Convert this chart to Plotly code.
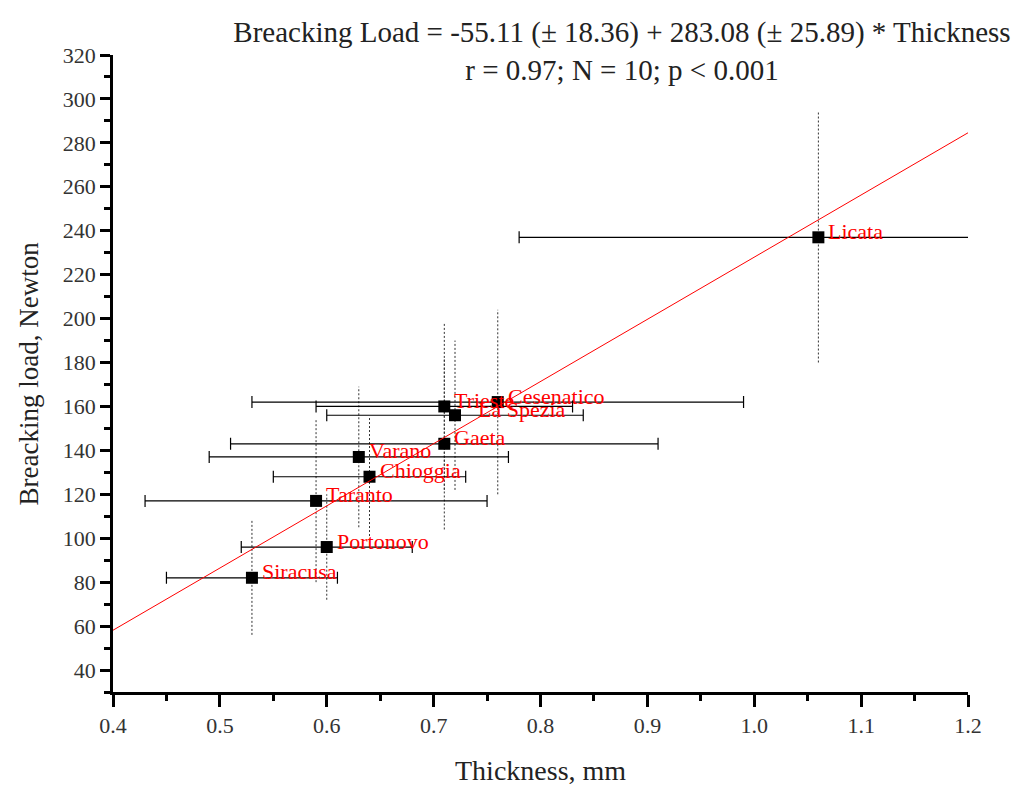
import plotly.graph_objects as go

# ---------------- data ----------------
sites = ["Siracusa", "Portonovo", "Taranto", "Chioggia", "Varano",
         "Gaeta", "Trieste", "La Spezia", "Cesenatico", "Licata"]
thickness = [0.53, 0.60, 0.59, 0.64, 0.63, 0.71, 0.71, 0.72, 0.76, 1.06]
breaking_load = [82, 96, 117, 128, 137, 143, 160, 156, 162, 237]
thickness_err = [0.08, 0.08, 0.16, 0.09, 0.14, 0.20, 0.12, 0.12, 0.23, 0.28]
load_err = [26, 24, 37, 27, 32, 39, 38, 34, 42, 57]

intercept = -55.11
slope = 283.08
x_range = [0.4, 1.2]
y_range = [30, 320]

x_ticks = [0.4, 0.5, 0.6, 0.7, 0.8, 0.9, 1.0, 1.1, 1.2]
x_tick_labels = ["0.4", "0.5", "0.6", "0.7", "0.8", "0.9", "1.0", "1.1", "1.2"]
y_ticks = list(range(40, 321, 20))

title_line1 = "Breacking Load = -55.11 (± 18.36) + 283.08 (± 25.89) * Thickness"
title_line2 = "r = 0.97; N = 10; p < 0.001"

FONT = "Liberation Serif, Times New Roman, serif"

fig = go.Figure()

# vertical (dotted) error bars
vx, vy = [], []
for x, y, e in zip(thickness, breaking_load, load_err):
    vx += [x, x, None]
    vy += [y - e, y + e, None]
fig.add_trace(go.Scatter(x=vx, y=vy, mode="lines",
                         line=dict(color="#333333", width=1, dash="2px,2px"),
                         hoverinfo="skip", showlegend=False))

# points with horizontal error bars
fig.add_trace(go.Scatter(
    x=thickness, y=breaking_load, mode="markers",
    marker=dict(symbol="square", size=12, color="black"),
    error_x=dict(type="data", array=thickness_err, visible=True,
                 color="black", thickness=1.2, width=6),
    showlegend=False, hovertext=sites))

# regression line
fig.add_trace(go.Scatter(
    x=x_range, y=[intercept + slope * x for x in x_range], mode="lines",
    line=dict(color="red", width=1), showlegend=False))

# point labels
for name, x, y in zip(sites, thickness, breaking_load):
    shift = 21 if name == "La Spezia" else 8
    fig.add_annotation(x=x, y=y, text=name, showarrow=False,
                       xanchor="left", yanchor="middle", xshift=shift, yshift=6,
                       font=dict(family=FONT, size=22, color="red"))

# axis titles
fig.add_annotation(x=0.5, y=0, xref="paper", yref="paper", text="Thickness, mm",
                   showarrow=False, xanchor="center", yanchor="middle", yshift=-78,
                   font=dict(family=FONT, size=28, color="#222222"))
fig.add_annotation(x=0, y=0.5, xref="paper", yref="paper", text="Breacking load, Newton",
                   showarrow=False, xanchor="center", yanchor="middle", xshift=-85,
                   textangle=-90, font=dict(family=FONT, size=27, color="#222222"))

fig.update_layout(
    width=1023, height=789,
    margin=dict(l=113, r=55, t=55, b=97),
    paper_bgcolor="white", plot_bgcolor="white",
    font=dict(family=FONT, color="#222222"),
    title=dict(text=title_line1 + "<br>" + title_line2,
               xref="container", yref="container",
               x=622 / 1023, xanchor="center", y=1 - 42 / 789, yanchor="middle",
               font=dict(family=FONT, size=29, color="#222222")),
    xaxis=dict(range=x_range, tickvals=x_ticks, ticktext=x_tick_labels,
               showgrid=False, zeroline=False, showline=True, linecolor="black",
               linewidth=2.5, ticks="outside", ticklen=12, tickwidth=2.5,
               tickcolor="black", tickfont=dict(family=FONT, size=22, color="#333333"),
               minor=dict(ticks="outside", dtick=0.05, tick0=0.4, ticklen=6,
                          tickwidth=2.5, tickcolor="black", showgrid=False)),
    yaxis=dict(range=y_range, tickvals=y_ticks,
               showgrid=False, zeroline=False, showline=True, linecolor="black",
               linewidth=2.5, ticks="outside", ticklen=10, tickwidth=2.5,
               tickcolor="black", tickfont=dict(family=FONT, size=22, color="#333333"),
               minor=dict(ticks="outside", dtick=10, tick0=30, ticklen=6,
                          tickwidth=2.5, tickcolor="black", showgrid=False)),
)

fig.write_html("out.html")
